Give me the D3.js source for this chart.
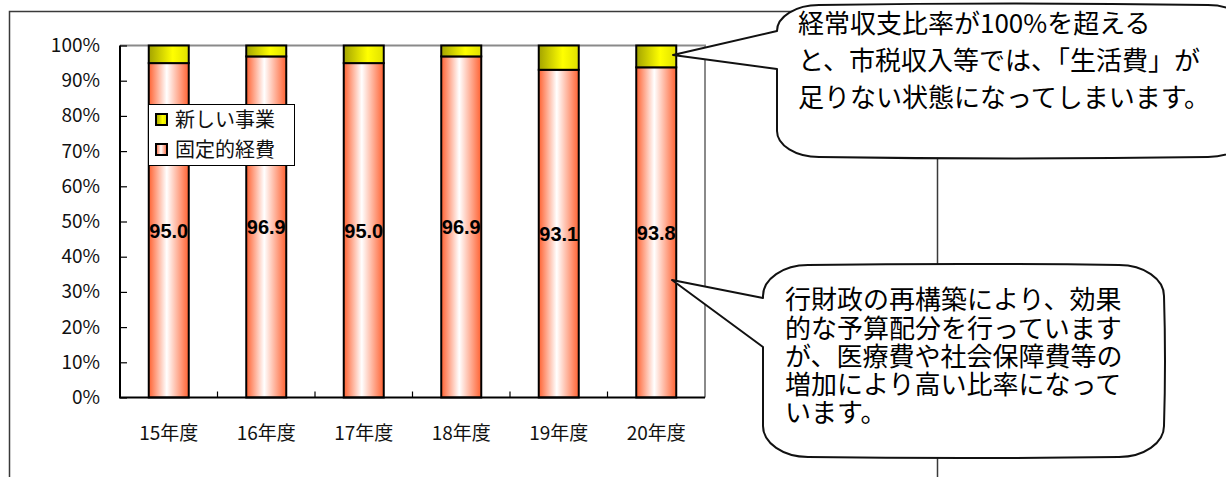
<!DOCTYPE html>
<html><head><meta charset="utf-8">
<script src="https://cdn.jsdelivr.net/npm/d3@7"></script>
<style>
html,body{margin:0;padding:0;background:#fff;}
svg{display:block;}
</style></head>
<body>
<svg id="chart" width="1226" height="477"></svg>
<script>
const categories = ["15年度","16年度","17年度","18年度","19年度","20年度"];
const fixedCost = [95.0, 96.9, 95.0, 96.9, 93.1, 93.8];
const newBusiness = [5.0, 3.1, 5.0, 3.1, 6.9, 6.2];
const yTicks = [0,10,20,30,40,50,60,70,80,90,100];
const seriesNames = ["新しい事業","固定的経費"];
const callout1Lines = ["経常収支比率が100%を超える","と、市税収入等では、「生活費」が","足りない状態になってしまいます。"];
const callout2Lines = ["行財政の再構築により、効果","的な予算配分を行っています","が、医療費や社会保障費等の","増加により高い比率になって","います。"];

const JP = "'Noto Sans CJK JP','Noto Sans',sans-serif";
const svg = d3.select("#chart");
const defs = svg.append("defs");

const gPink = defs.append("linearGradient").attr("id","gPink").attr("x1","0").attr("x2","1").attr("y1","0").attr("y2","0");
gPink.append("stop").attr("offset","0%").attr("stop-color","#ff6232");
gPink.append("stop").attr("offset","45%").attr("stop-color","#ffffff");
gPink.append("stop").attr("offset","100%").attr("stop-color","#ff6232");
const gYel = defs.append("linearGradient").attr("id","gYel").attr("x1","0").attr("x2","1").attr("y1","0").attr("y2","0");
gYel.append("stop").attr("offset","0%").attr("stop-color","#a3a300");
gYel.append("stop").attr("offset","60%").attr("stop-color","#ffff00");
gYel.append("stop").attr("offset","100%").attr("stop-color","#e0e000");

// outer frame
svg.append("path").attr("d","M9.5,480 L9.5,11.5 L937.5,11.5 L937.5,480")
  .attr("fill","none").attr("stroke","#3a3a3a").attr("stroke-width",1.5);

const X0 = 120, X1 = 705, YT = 45.5, YB = 397.5;
const x = d3.scaleBand().domain(categories).range([X0, X1]).paddingInner(0).paddingOuter(0);
const y = d3.scaleLinear().domain([0,100]).range([YB, YT]);
const bw = 40;

// plot border top/right gray
svg.append("path").attr("d",`M${X0},${YT} L${X1},${YT} L${X1},${YB}`)
  .attr("fill","none").attr("stroke","#8a8a8a").attr("stroke-width",2);

// y axis
const yAxis = d3.axisLeft(y).tickValues(yTicks).tickFormat(d => d + "%").tickSize(-7).tickPadding(20);
const gy = svg.append("g").attr("transform",`translate(${X0},0)`).call(yAxis);
gy.select(".domain").remove();
gy.selectAll(".tick line").attr("stroke","#000").attr("stroke-width",1.2);
gy.selectAll(".tick text").attr("font-family",JP).attr("font-size",19).attr("fill","#111");

// x tick marks at band boundaries
svg.append("g").selectAll("line").data(categories.slice(1)).join("line")
  .attr("x1",d=>x(d)).attr("x2",d=>x(d)).attr("y1",YB).attr("y2",YB-6)
  .attr("stroke","#000").attr("stroke-width",1.2);

// x labels
svg.append("g").selectAll("text").data(categories).join("text")
  .attr("x",d=>x(d)+x.bandwidth()/2).attr("y",440)
  .attr("text-anchor","middle").attr("font-family",JP).attr("font-size",19).attr("fill","#111")
  .text(d=>d);

// bars
const data = categories.map((c,i)=>({c, f:fixedCost[i], n:newBusiness[i]}));
const bars = svg.append("g");
bars.selectAll("rect.fixed").data(data).join("rect").attr("class","fixed")
  .attr("x",d=>x(d.c)+x.bandwidth()/2-bw/2).attr("width",bw)
  .attr("y",d=>y(d.f)).attr("height",d=>y(0)-y(d.f))
  .attr("fill","url(#gPink)").attr("stroke","#000").attr("stroke-width",2);
bars.selectAll("rect.newb").data(data).join("rect").attr("class","newb")
  .attr("x",d=>x(d.c)+x.bandwidth()/2-bw/2).attr("width",bw)
  .attr("y",d=>y(d.f+d.n)).attr("height",d=>y(d.f)-y(d.f+d.n))
  .attr("fill","url(#gYel)").attr("stroke","#000").attr("stroke-width",2);

// axes lines (left, bottom) black
svg.append("path").attr("d",`M${X0},${YT} L${X0},${YB} L${X1},${YB}`)
  .attr("fill","none").attr("stroke","#000").attr("stroke-width",2);

// value labels
svg.append("g").selectAll("text").data(data).join("text")
  .attr("x",d=>x(d.c)+x.bandwidth()/2).attr("y",d=>y(d.f/2))
  .attr("dy","0.36em").attr("text-anchor","middle")
  .attr("font-family","'Liberation Sans',Arial,sans-serif").attr("font-weight","bold").attr("font-size",20)
  .attr("fill","#000").text(d=>d.f.toFixed(1));

// legend
const lg = svg.append("g");
lg.append("rect").attr("x",148.5).attr("y",104.5).attr("width",146).attr("height",61)
  .attr("fill","#fff").attr("stroke","#000").attr("stroke-width",1);
const lgFills = ["url(#gYel)","url(#gPink)"];
seriesNames.forEach((s,i)=>{
  const cy = 120 + i*30;
  lg.append("rect").attr("x",156).attr("y",cy-6).attr("width",11).attr("height",11)
    .attr("fill",lgFills[i]).attr("stroke","#000").attr("stroke-width",2);
  lg.append("text").attr("x",175).attr("y",cy).attr("dy","0.36em")
    .attr("font-family",JP).attr("font-size",20).attr("fill","#111").text(s);
});

// callouts
function calloutPath(L,T,R,B,rx,ry,bul,tipX,tipY,j1,j2){
  const k = 0.448;
  return `M${L+rx},${T} Q${(L+R)/2},${T-bul} ${R-rx},${T}`+
    ` C${R-rx*k},${T} ${R},${T+ry*k} ${R},${T+ry}`+
    ` Q${R+bul},${(T+B)/2} ${R},${B-ry}`+
    ` C${R},${B-ry*k} ${R-rx*k},${B} ${R-rx},${B}`+
    ` Q${(L+R)/2},${B+bul} ${L+rx},${B}`+
    ` C${L+rx*k},${B} ${L},${B-ry*k} ${L},${B-ry}`+
    ` L${L},${j2} L${tipX},${tipY} L${L},${j1} L${L},${T+ry}`+
    ` C${L},${T+ry*k} ${L+rx*k},${T} ${L+rx},${T} Z`;
}
svg.append("path").attr("d",calloutPath(777,5,1250,157,42,26,3,673,55,31,69))
  .attr("fill","#fff").attr("stroke","#111").attr("stroke-width",2).attr("stroke-linejoin","round");
svg.append("path").attr("d",calloutPath(763,265,1164,457,45,31,2,672,280,298,347))
  .attr("fill","#fff").attr("stroke","#111").attr("stroke-width",2).attr("stroke-linejoin","round");

const t1 = svg.append("text").attr("font-family",JP).attr("font-size",26).attr("fill","#000");
t1.selectAll("tspan").data(callout1Lines).join("tspan")
  .attr("x",798).attr("y",(d,i)=>24+i*37).attr("dy","0.36em").text(d=>d);
const t2 = svg.append("text").attr("font-family",JP).attr("font-size",26).attr("fill","#000");
t2.selectAll("tspan").data(callout2Lines).join("tspan")
  .attr("x",785).attr("y",(d,i)=>300+i*28.2).attr("dy","0.36em").text(d=>d);
</script>
</body></html>
